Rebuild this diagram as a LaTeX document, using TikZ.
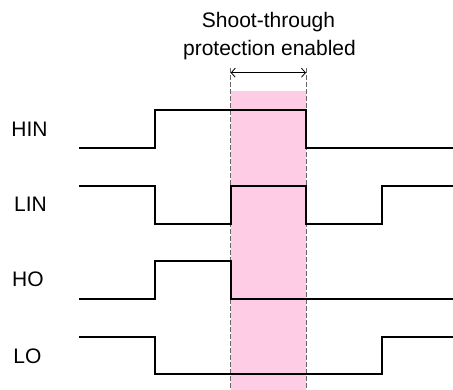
\documentclass[tikz,border=0pt]{standalone}
\usepackage{fontspec}
\setmainfont{Liberation Sans}
\usetikzlibrary{arrows.meta}
\begin{document}
\begin{tikzpicture}[x=1pt,y=-1pt,
  sig/.style={line width=2pt,line join=miter},
  guide/.style={draw=black!60,line width=0.8pt,dash pattern=on 5pt off 2pt},
  lbl/.style={font=\fontsize{21}{24}\selectfont,anchor=base,inner sep=0pt},
  span/.style={{Straight Barb[length=4pt,width=9pt]}-{Straight Barb[length=4pt,width=9pt]},line width=0.8pt}]
\useasboundingbox (0,0) rectangle (453,390);
\fill[fill={rgb,255:red,255;green,204;blue,230}] (230.7,90.7) rectangle (306,390);
\coordinate (g1t) at (230.7,68);
\coordinate (g1b) at (230.7,390);
\coordinate (g2t) at (306,68);
\coordinate (g2b) at (306,390);
\draw[guide] (g1t) -- (g1b);
\draw[guide] (g2t) -- (g2b);
\coordinate (a1) at (230.7,72.7);
\coordinate (a2) at (306,72.7);
\draw[span] (a1) -- (a2);
\node[lbl] (t1) at (268.5,28) {Shoot-through};
\node[lbl] (t2) at (269.5,55.5) {protection enabled};
\node[lbl] (hin) at (29.5,136.5) {HIN};
\node[lbl] (lin) at (30.5,211.5) {LIN};
\node[lbl] (ho) at (28,287) {HO};
\node[lbl] (lo) at (27.5,363.5) {LO};
% HIN
\draw[sig] (79,148) -- (155,148) -- (155,110) -- (306,110) -- (306,148) -- (453,148);
% LIN
\draw[sig] (79,186) -- (155,186) -- (155,223.7) -- (230.7,223.7) -- (230.7,186) -- (306,186) -- (306,223.7) -- (381.7,223.7) -- (381.7,186) -- (453,186);
% HO
\draw[sig] (79,299) -- (155,299) -- (155,261) -- (230.7,261) -- (230.7,299) -- (453,299);
% LO
\draw[sig] (79,336.7) -- (155,336.7) -- (155,374.3) -- (381.7,374.3) -- (381.7,336.7) -- (453,336.7);
\end{tikzpicture}
\end{document}
